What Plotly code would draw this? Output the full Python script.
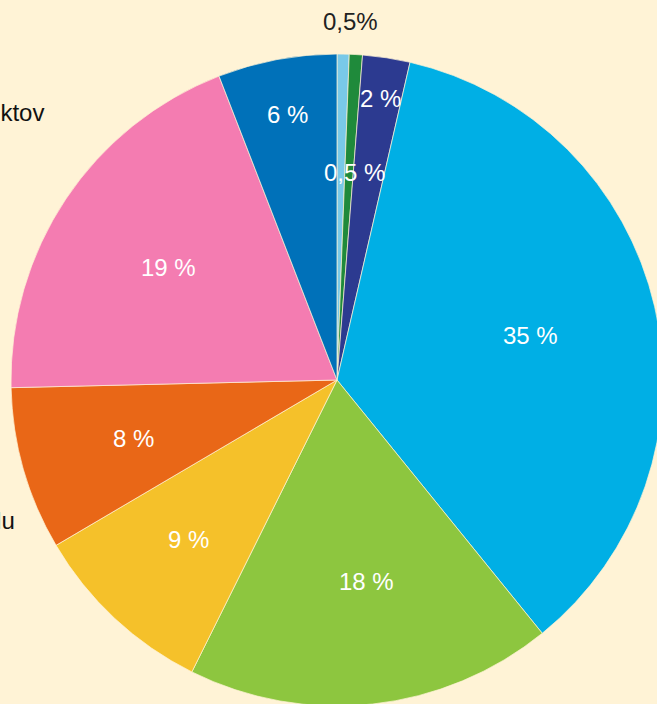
import math
import plotly.graph_objects as go

# ---- data (clockwise from 12 o'clock) ----
slice_names = ["a", "b", "c", "d", "e", "f", "g", "h", "i"]
slice_values = [0.6, 0.65, 2.35, 35.6, 18.2, 9.2, 8.1, 19.5, 5.9]
slice_labels = ["0,5%", "0,5 %", "2 %", "35 %", "18 %", "9 %", "8 %", "19 %", "6 %"]
side_texts = ["produktov", "obalu"]

# ---- style ----
colors = ["#79C9E8", "#1F8A3B", "#2C3A90", "#00AFE5", "#8DC63F",
          "#F5C12A", "#E96717", "#F47CB1", "#0071B9"]
label_r = [1.10, 0.64, 0.875, 0.61, 0.625, 0.67, 0.65, 0.62, 0.83]
label_dang = [0, 1.5, 0, 0, -2, 0, 0, 0, 0]
label_color = ["#222222"] + ["white"] * 8
BG = "#FFF3D6"
FONT = "Liberation Sans, Arial, Helvetica, sans-serif"

W, H = 670, 712
CX, CY, R = 337, 380, 326

fig = go.Figure(go.Pie(
    labels=slice_names,
    values=slice_values,
    sort=False,
    direction="clockwise",
    rotation=0,
    textinfo="none",
    hoverinfo="label+value",
    marker=dict(colors=colors, line=dict(color=BG, width=0.7)),
    domain=dict(x=[(CX - R) / W, (CX + R) / W],
                y=[1 - (CY + R) / H, 1 - (CY - R) / H]),
    showlegend=False,
))

# label positions derived from the slice angles
total = sum(slice_values)
cum = 0.0
annotations = []
for i, v in enumerate(slice_values):
    start = cum / total * 360
    cum += v
    end = cum / total * 360
    ang = (end if i == 0 else (start + end) / 2) + label_dang[i]
    a = math.radians(ang)
    px = CX + label_r[i] * R * math.sin(a)
    py = CY - label_r[i] * R * math.cos(a)
    annotations.append(dict(
        x=px / W, y=1 - py / H, xref="paper", yref="paper",
        text=slice_labels[i], showarrow=False,
        xanchor="center", yanchor="middle",
        font=dict(family=FONT, size=24, color=label_color[i]),
    ))

# truncated side labels at the left edge
for txt, (rx, ry) in zip(side_texts, [(46, 113), (17, 520)]):
    annotations.append(dict(
        x=rx / W, y=1 - ry / H, xref="paper", yref="paper",
        text=txt, showarrow=False, xanchor="right", yanchor="middle",
        font=dict(family=FONT, size=24, color="#111111"),
    ))

fig.update_layout(
    width=W, height=H,
    margin=dict(l=0, r=0, t=0, b=0),
    paper_bgcolor=BG, plot_bgcolor=BG,
    annotations=annotations,
)

fig.write_html(
    "out.html",
    post_script="document.documentElement.style.overflow='hidden';"
                "document.body.style.overflow='hidden';"
                "document.body.style.margin='0';"
                "document.body.style.background='" + BG + "';",
)
